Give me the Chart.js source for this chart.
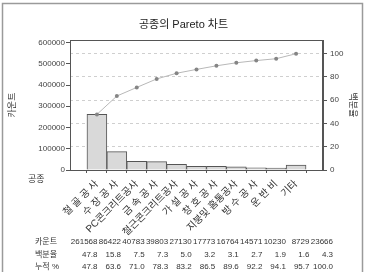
<!DOCTYPE html>
<html><head><meta charset="utf-8">
<script src="https://cdn.jsdelivr.net/npm/chart.js@4/dist/chart.umd.min.js"></script>
<style>html,body{margin:0;padding:0;background:#fff}#wrap{width:367px;height:272px}</style>
</head><body><div id="wrap"><canvas id="c" width="367" height="272"></canvas></div>
<script>
const categories = ["철 골 공 사","수 장 공 사","PC콘크리트공사","금 속 공 사","철근콘크리트공사","가 설 공 사","창 호 공 사","지붕및 홈통공사","방 수 공 사","운 반 비","기타"];
const counts = [261568,86422,40783,39803,27130,17773,16764,14571,10230,8729,23666];
const percents = [47.8,15.8,7.5,7.3,5.0,3.2,3.1,2.7,1.9,1.6,4.3];
const cumulative = [47.8,63.6,71.0,78.3,83.2,86.5,89.6,92.2,94.1,95.7,100.0];
const countTicks = [0,100000,200000,300000,400000,500000,600000];
const percentTicks = [0,20,40,60,80,100];
const rowLabels = ["카운트","백분율","누적 %"];
const total = counts.reduce((a,b)=>a+b,0);
const countMax = 612000;

const FONT = '"Liberation Sans", Arial, "Noto Sans CJK KR", sans-serif';
Chart.defaults.font.family = FONT;
Chart.defaults.color = '#333';

const extras = {
  id: 'extras',
  afterDraw(chart) {
    const ctx = chart.ctx;
    const a = chart.chartArea;
    ctx.save();
    ctx.strokeStyle = '#555';
    ctx.lineWidth = 1;
    ctx.strokeRect(Math.round(a.left)+0.5, Math.round(a.top)+0.5, Math.round(a.right-a.left)-1, Math.round(a.bottom-a.top));
    ctx.strokeStyle = '#9a9a9a';
    ctx.lineWidth = 1.5;
    ctx.strokeRect(2.5, 3.5, 360, 280);
    ctx.fillStyle = '#333';
    ctx.font = '9px ' + FONT;
    ctx.textBaseline = 'middle';
    ctx.textAlign = 'left';
    ctx.fillText('공종', 28, 180);
    ctx.font = '8px ' + FONT;
    const rows = [
      counts.map(v => String(v)),
      percents.map(v => v.toFixed(1)),
      cumulative.map(v => v.toFixed(1))
    ];
    const ys = [242, 254.5, 267];
    rows.forEach((row, r) => {
      ctx.textAlign = 'left';
      ctx.fillText(rowLabels[r], 35, ys[r]);
      ctx.textAlign = 'right';
      row.forEach((t, i) => ctx.fillText(t, 97.5 + i*23.55, ys[r]));
    });
    ctx.restore();
  }
};

new Chart(document.getElementById('c'), {
  type: 'bar',
  data: {
    datasets: [
      {
        type: 'line',
        data: cumulative.map((v,i)=>({x:i, y:v})),
        yAxisID: 'y2',
        borderColor: '#b8b8b8',
        borderWidth: 1,
        pointRadius: 2,
        pointStyle: 'circle',
        pointBackgroundColor: '#858585',
        pointBorderColor: '#858585',
        pointBorderWidth: 0,
        order: 1
      },
      {
        type: 'bar',
        data: counts.map((v,i)=>({x:i, y:v})),
        yAxisID: 'y',
        backgroundColor: '#d9d9d9',
        borderColor: '#555',
        borderWidth: 1,
        barPercentage: 1,
        categoryPercentage: 1,
        order: 2
      }
    ]
  },
  options: {
    responsive: false,
    animation: false,
    devicePixelRatio: 1,
    layout: { padding: 0 },
    plugins: {
      legend: { display: false },
      tooltip: { enabled: false },
      title: {
        display: true,
        text: '공종의 Pareto 차트',
        color: '#222',
        font: { size: 11, weight: 'normal', family: FONT },
        padding: { top: 18.4, bottom: 8.4 }
      }
    },
    scales: {
      x: {
        type: 'linear',
        position: 'bottom',
        min: -0.774,
        max: 10.774,
        afterBuildTicks: s => { s.ticks = categories.map((_, i) => ({ value: i })); },
        afterFit: s => { s.height = 102; },
        ticks: {
          autoSkip: false,
          minRotation: 45,
          maxRotation: 45,
          padding: 5,
          color: '#333',
          font: { size: 10 },
          callback: v => categories[v]
        },
        grid: { drawOnChartArea: false, tickLength: 3, color: '#555' },
        border: { color: '#555' }
      },
      y: {
        position: 'left',
        min: 0,
        max: countMax,
        afterBuildTicks: s => { s.ticks = countTicks.map(v => ({ value: v })); },
        afterFit: s => { s.width = 70; },
        ticks: { padding: 1, color: '#444', font: { size: 8 }, callback: v => String(v) },
        grid: { drawOnChartArea: false, tickLength: 4, color: '#555' },
        border: { color: '#555' },
        title: { display: true, text: '카운트', color: '#333', font: { size: 9 }, padding: { top: 7.6, bottom: 0 } }
      },
      y2: {
        position: 'right',
        min: 0,
        max: countMax / total * 100,
        afterBuildTicks: s => { s.ticks = percentTicks.map(v => ({ value: v })); },
        afterFit: s => { s.width = 44; },
        ticks: { padding: 3, color: '#444', font: { size: 8 }, callback: v => String(v) },
        grid: { drawOnChartArea: true, tickLength: 4, color: '#cfcfcf', tickColor: '#555', tickBorderDash: [] },
        border: { color: '#555', dash: [3, 3] },
        title: { display: true, text: '백분율', color: '#333', font: { size: 9 }, padding: { top: 9.6, bottom: 0 } }
      }
    }
  },
  plugins: [extras]
});
</script>
</body></html>
